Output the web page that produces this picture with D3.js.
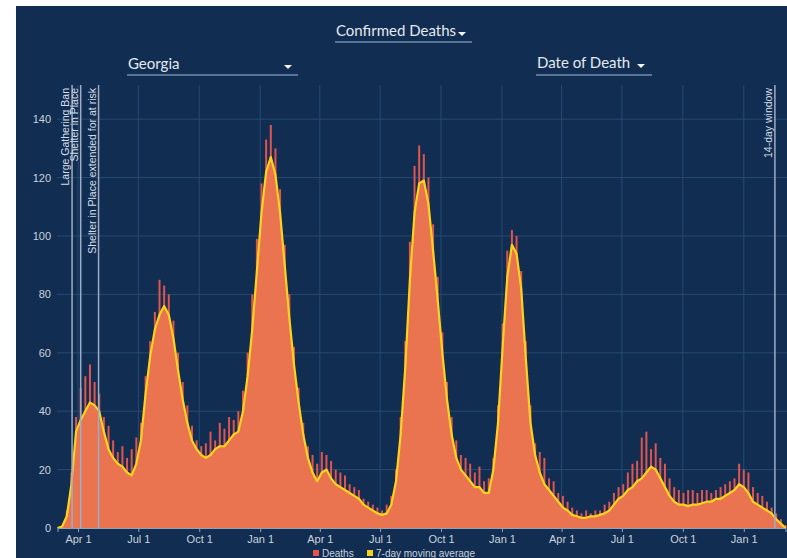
<!DOCTYPE html>
<html>
<head>
<meta charset="utf-8">
<script src="https://cdn.jsdelivr.net/npm/d3@7"></script>
<style>
  body { margin: 0; background: #fff; }
  svg { display: block; }
</style>
</head>
<body>
<svg id="chart" width="787" height="558"></svg>
<script>
// weekly samples, first week starts on this date
var firstWeek = '2020-03-01';

// 7-day moving average, one value per week
var avg = [
  0, 0.5, 4, 15, 33, 37, 40, 43, 42, 40, 33, 27, 24, 22, 21, 19, 18, 22, 30, 46,
  59, 68, 73, 76, 73, 65, 54, 44, 36, 30, 27, 25, 24, 25, 27, 28, 28, 30, 32, 33,
  40, 52, 68, 88, 108, 122, 127, 121, 108, 90, 72, 56, 43, 32, 24, 19, 16, 19, 20, 17,
  15, 14, 13, 12, 11, 10, 8, 7, 6, 5, 4.5, 5, 8, 16, 32, 55, 85, 108, 118, 119,
  111, 95, 78, 60, 44, 32, 24, 20, 18, 16, 14, 14, 12, 12, 20, 36, 62, 86, 97, 94,
  82, 58, 36, 25, 19, 15, 13, 11, 9, 7, 6, 4.5, 4, 3.5, 3.5, 4, 4, 4.5, 5, 6,
  8, 10, 11, 13, 14, 16, 17, 19, 21, 20, 17, 14, 11, 9, 8, 8, 7.5, 8, 8, 8.5,
  9, 9, 10, 10, 11, 12, 13, 15, 14, 12, 9, 8, 7, 6, 5, 3, 1.5, 0
];

// highest daily death count seen in each week
var deaths = [
  0, 1, 6, 19, 38, 48, 52, 56, 50, 46, 38, 35, 30, 26, 28, 24, 27, 31, 36, 52,
  64, 74, 85, 83, 80, 71, 60, 50, 42, 35, 30, 28, 29, 33, 30, 36, 34, 38, 37, 40,
  47, 60, 80, 99, 118, 133, 138, 130, 116, 97, 80, 62, 48, 36, 28, 25, 22, 26, 25, 23,
  20, 19, 18, 15, 14, 13, 10, 9, 8, 7, 6, 8, 11, 20, 38, 64, 98, 124, 131, 128,
  120, 104, 86, 67, 50, 38, 30, 25, 24, 22, 19, 21, 16, 17, 24, 42, 70, 95, 102, 100,
  88, 64, 42, 29, 26, 24, 17, 16, 12, 11, 9, 7, 6, 5, 6, 5, 6, 6, 8, 9,
  12, 14, 15, 19, 22, 23, 31, 33, 27, 29, 24, 22, 17, 14, 13, 12, 13, 13, 12, 13,
  13, 12, 13, 14, 15, 16, 17, 22, 20, 19, 14, 12, 11, 9, 7, 5, 3, 1
];

var xTicks = ['2020-04-01', '2020-07-01', '2020-10-01', '2021-01-01', '2021-04-01',
  '2021-07-01', '2021-10-01', '2022-01-01', '2022-04-01', '2022-07-01',
  '2022-10-01', '2023-01-01'];
var yTicks = [0, 20, 40, 60, 80, 100, 120, 140];

var events = [
  { date: '2020-03-23', label: 'Large Gathering Ban' },
  { date: '2020-04-05', label: 'Shelter in Place' },
  { date: '2020-05-02', label: 'Shelter in Place extended for at risk' },
  { date: '2023-02-17', label: '14-day window' }
];

var parse = d3.timeParse('%Y-%m-%d');
var start = parse(firstWeek);
var data = avg.map(function(v, i) {
  return { date: d3.timeDay.offset(start, i * 7), avg: v, deaths: deaths[i] };
});

var svg = d3.select('#chart');
var W = 787, H = 558;

// navy panel
svg.append('rect')
  .attr('x', 16).attr('y', 6)
  .attr('width', W - 16).attr('height', H - 6)
  .attr('fill', '#112d51');

var x = d3.scaleTime()
  .domain([start, data[data.length - 1].date])
  .range([57.5, 785.5]);
var y = d3.scaleLinear().domain([0, 151.7]).range([528, 85]);

var fmt = d3.timeFormat('%b %-d');

// grid
var grid = svg.append('g');
grid.selectAll('.vg').data(xTicks).enter().append('line')
  .attr('x1', function(d) { return x(parse(d)); })
  .attr('x2', function(d) { return x(parse(d)); })
  .attr('y1', y.range()[1]).attr('y2', y.range()[0])
  .attr('stroke', '#264a72').attr('stroke-width', 1);
grid.selectAll('.hg').data(yTicks).enter().append('line')
  .attr('x1', 57).attr('x2', W)
  .attr('y1', function(d) { return y(d); })
  .attr('y2', function(d) { return y(d); })
  .attr('stroke', '#264a72').attr('stroke-width', 1);

// daily death spikes
svg.append('g').selectAll('rect').data(data).enter().append('rect')
  .attr('x', function(d) { return x(d.date) - 1; })
  .attr('width', 2)
  .attr('y', function(d) { return y(d.deaths); })
  .attr('height', function(d) { return y(0) - y(d.deaths); })
  .attr('fill', '#e0554f');

// filled area under the moving average
var area = d3.area()
  .x(function(d) { return x(d.date); })
  .y0(y(0))
  .y1(function(d) { return y(d.avg); });
svg.append('path').datum(data)
  .attr('d', area)
  .attr('fill', '#e9744f');

var line = d3.line()
  .x(function(d) { return x(d.date); })
  .y(function(d) { return y(d.avg); });
svg.append('path').datum(data)
  .attr('d', line)
  .attr('fill', 'none')
  .attr('stroke', '#fbd31c')
  .attr('stroke-width', 2.2)
  .attr('stroke-linejoin', 'round');

// event markers
var ev = svg.append('g').selectAll('g').data(events).enter().append('g');
ev.append('line')
  .attr('x1', function(d) { return x(parse(d.date)); })
  .attr('x2', function(d) { return x(parse(d.date)); })
  .attr('y1', 85).attr('y2', y(0))
  .attr('stroke', '#9aaec8').attr('stroke-width', 1.5);
ev.append('text')
  .attr('transform', function(d) {
    return 'translate(' + (x(parse(d.date)) - 3) + ',88) rotate(-90)';
  })
  .attr('text-anchor', 'end')
  .attr('font-family', 'Liberation Sans, Arial, sans-serif')
  .attr('font-size', 10.5)
  .attr('fill', '#d6dde6')
  .text(function(d) { return d.label; });

// axes
var axisFont = 'Liberation Sans, Arial, sans-serif';
var xAxis = svg.append('g')
  .attr('transform', 'translate(0,' + y(0) + ')')
  .call(d3.axisBottom(x)
    .tickValues(xTicks.map(parse))
    .tickFormat(fmt)
    .tickSize(4).tickPadding(3));
xAxis.select('.domain').attr('stroke', '#8fa3bd');
xAxis.selectAll('.tick line').attr('stroke', '#8fa3bd');
xAxis.selectAll('text')
  .attr('fill', '#c9d2dd').attr('font-size', 11).attr('font-family', axisFont);

var yAxis = svg.append('g')
  .attr('transform', 'translate(56,0)')
  .call(d3.axisLeft(y).tickValues(yTicks).tickSize(0).tickPadding(5));
yAxis.select('.domain').remove();
yAxis.selectAll('text')
  .attr('fill', '#c9d2dd').attr('font-size', 11).attr('font-family', axisFont);

// dropdown-looking controls
var controls = [
  { label: 'Confirmed Deaths', x: 336, base: 36, line: 42, x2: 472, caret: 462 },
  { label: 'Georgia', x: 128, base: 69, line: 75, x2: 298, caret: 288 },
  { label: 'Date of Death', x: 537, base: 68, line: 75, x2: 652, caret: 641 }
];
var c = svg.append('g').selectAll('g').data(controls).enter().append('g');
c.append('text')
  .attr('x', function(d) { return d.x; })
  .attr('y', function(d) { return d.base; })
  .attr('font-family', 'Lato, sans-serif')
  .attr('font-size', 15)
  .attr('fill', '#e3e9f0')
  .text(function(d) { return d.label; });
c.append('line')
  .attr('x1', function(d) { return d.x - 1; })
  .attr('x2', function(d) { return d.x2; })
  .attr('y1', function(d) { return d.line; })
  .attr('y2', function(d) { return d.line; })
  .attr('stroke', '#587597').attr('stroke-width', 2);
c.append('path')
  .attr('d', function(d) {
    var cy = d.base - 4;
    return 'M' + (d.caret - 4) + ',' + cy + 'L' + (d.caret + 4) + ',' + cy +
      'L' + d.caret + ',' + (cy + 4) + 'Z';
  })
  .attr('fill', '#f2f5f8');

// legend
var legend = [
  { label: 'Deaths', color: '#e8504a', x: 313 },
  { label: '7-day moving average', color: '#f5d31c', x: 367 }
];
var lg = svg.append('g').selectAll('g').data(legend).enter().append('g');
lg.append('rect')
  .attr('x', function(d) { return d.x; })
  .attr('y', 550).attr('width', 6).attr('height', 6)
  .attr('fill', function(d) { return d.color; });
lg.append('text')
  .attr('x', function(d) { return d.x + 9; })
  .attr('y', 557)
  .attr('font-family', axisFont)
  .attr('font-size', 10)
  .attr('fill', '#c9d2dd')
  .text(function(d) { return d.label; });
</script>
</body>
</html>
